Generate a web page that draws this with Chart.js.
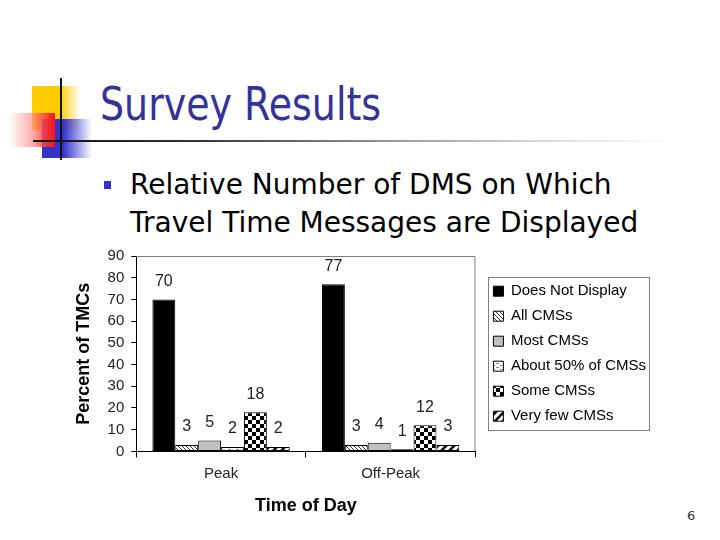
<!DOCTYPE html>
<html>
<head>
<meta charset="utf-8">
<script src="https://cdn.jsdelivr.net/npm/chart.js@4.4.0/dist/chart.umd.min.js"></script>
<style>
  html, body { margin: 0; padding: 0; background: #fff; }
  body { width: 720px; height: 540px; position: relative; overflow: hidden; font-family: "DejaVu Sans", sans-serif; }
  .abs { position: absolute; }
  #title { left: 100px; top: 81px; font-size: 46px; line-height: 46px; color: #333399; white-space: nowrap; transform: scaleX(0.825); transform-origin: 0 0; }
  #bullet { left: 104px; top: 181px; width: 7px; height: 8px; background: #3333cc; }
  #body { left: 130px; top: 166px; font-size: 28px; line-height: 38px; color: #000; white-space: nowrap; }
  #pageNo { left: 687px; top: 509px; font-size: 13px; line-height: 13px; color: #333; }
  #chartBox { left: 60px; top: 240px; width: 600px; height: 290px; }
</style>
</head>
<body>
<!-- title decoration -->
<div class="abs" style="left:32px;top:86px;width:48px;height:44px;background:linear-gradient(to right,#ffcc00 0%,#ffcc00 58%,rgba(255,204,0,0) 100%)"></div>
<div class="abs" style="left:42px;top:119px;width:50px;height:39px;background:linear-gradient(to right,#3333cc 0%,#3333cc 42%,rgba(51,51,204,0) 100%)"></div>
<div class="abs" style="left:10px;top:113px;width:45px;height:34px;background:linear-gradient(to right,rgba(255,240,240,0.3) 0%,rgba(255,140,140,0.7) 50%,#ff1010 100%)"></div>
<div class="abs" style="left:60px;top:78px;width:2px;height:82px;background:#111"></div>
<div class="abs" style="left:33px;top:140px;width:650px;height:2px;background:linear-gradient(to right,#111 0%,#333 25%,#999 55%,#e8e8e8 85%,rgba(255,255,255,0) 100%)"></div>

<div id="title" class="abs">Survey Results</div>
<div id="bullet" class="abs"></div>
<div id="body" class="abs">Relative Number of DMS on Which<br>Travel Time Messages are Displayed</div>
<div id="pageNo" class="abs">6</div>

<div id="chartBox" class="abs"><canvas id="chartCanvas" width="600" height="290"></canvas></div>

<script>
const categories = ['Peak', 'Off-Peak'];
const seriesNames = ['Does Not Display', 'All CMSs', 'Most CMSs', 'About 50% of CMSs', 'Some CMSs', 'Very few CMSs'];
const doesNotDisplay = [70, 77];
const allCMSs = [3, 3];
const mostCMSs = [5, 4];
const about50 = [2, 1];
const someCMSs = [18, 12];
const veryFew = [2, 3];
const yTicks = [0, 10, 20, 30, 40, 50, 60, 70, 80, 90];

const canvas = document.getElementById('chartCanvas');
const ctx = canvas.getContext('2d');

// small fill patterns like the old Excel bars
const makePattern = (w, h, draw) => {
  const c = document.createElement('canvas');
  c.width = w;
  c.height = h;
  const g = c.getContext('2d');
  g.fillStyle = '#fff';
  g.fillRect(0, 0, w, h);
  draw(g);
  return ctx.createPattern(c, 'repeat');
};

const backHatch = makePattern(4, 4, g => {
  g.strokeStyle = '#333';
  g.lineWidth = 1;
  g.beginPath();
  g.moveTo(-1, -1); g.lineTo(5, 5);
  g.moveTo(-1, 3); g.lineTo(1, 5);
  g.moveTo(3, -1); g.lineTo(5, 1);
  g.stroke();
});

const lightDash = makePattern(8, 4, g => {
  g.fillStyle = '#888';
  g.fillRect(0, 1, 3, 1);
  g.fillRect(4, 3, 3, 1);
});

const checker = makePattern(8, 8, g => {
  g.fillStyle = '#000';
  g.fillRect(0, 0, 4, 4);
  g.fillRect(4, 4, 4, 4);
});

const wideStripe = makePattern(8, 8, g => {
  g.strokeStyle = '#000';
  g.lineWidth = 2.5;
  g.beginPath();
  g.moveTo(-1, 9); g.lineTo(9, -1);
  g.moveTo(-1, 1); g.lineTo(1, -1);
  g.moveTo(7, 9); g.lineTo(9, 7);
  g.stroke();
});

const fills = ['#000', backHatch, '#c0c0c0', lightDash, checker, wideStripe];
const seriesData = [doesNotDisplay, allCMSs, mostCMSs, about50, someCMSs, veryFew];

// plot area frame (top + right edge)
const plotFrame = {
  id: 'plotFrame',
  beforeDatasetsDraw(chart) {
    const { ctx, chartArea: a } = chart;
    ctx.save();
    ctx.strokeStyle = '#808080';
    ctx.lineWidth = 1;
    ctx.beginPath();
    ctx.moveTo(a.left, a.top + 0.5);
    ctx.lineTo(a.right - 0.5, a.top + 0.5);
    ctx.lineTo(a.right - 0.5, a.bottom);
    ctx.stroke();
    ctx.restore();
  }
};

// push the legend a bit away from the plot
const legendNudge = {
  id: 'legendNudge',
  afterLayout(chart) {
    chart.legend.left += 8;
    chart.legend.right += 8;
  }
};

const legendFrame = {
  id: 'legendFrame',
  afterDraw(chart) {
    const hb = chart.legend.legendHitBoxes;
    if (!hb || !hb.length) return;
    const x0 = Math.round(hb[0].left - 5) + 0.5;
    const w = Math.round(Math.max(...hb.map(h => h.width)) + 8);
    const y0 = Math.round(hb[0].top - 7) + 0.5;
    const last = hb[hb.length - 1];
    const y1 = Math.round(last.top + last.height + 6) + 0.5;
    const c = chart.ctx;
    c.save();
    c.strokeStyle = '#808080';
    c.lineWidth = 1;
    c.strokeRect(x0, y0, w, y1 - y0);
    c.restore();
  }
};

const valueLabels = {
  id: 'valueLabels',
  afterDatasetsDraw(chart) {
    const c = chart.ctx;
    c.save();
    c.font = '16px "Liberation Sans", Arial, sans-serif';
    c.fillStyle = '#222';
    c.textAlign = 'center';
    c.textBaseline = 'bottom';
    chart.data.datasets.forEach((ds, i) => {
      chart.getDatasetMeta(i).data.forEach((bar, j) => {
        c.fillText(ds.data[j], bar.x, bar.y - 10);
      });
    });
    c.restore();
  }
};

Chart.defaults.font.family = '"Liberation Sans", Arial, sans-serif';
Chart.defaults.color = '#222';

new Chart(ctx, {
  type: 'bar',
  data: {
    labels: categories,
    datasets: seriesNames.map((name, i) => ({
      label: name,
      data: seriesData[i],
      backgroundColor: fills[i],
      borderColor: '#000',
      borderWidth: 1,
      borderSkipped: false,
      categoryPercentage: 0.81,
      barPercentage: 1.0
    }))
  },
  options: {
    responsive: false,
    animation: false,
    layout: { padding: { top: 16, left: 0, right: 12, bottom: 9 } },
    plugins: {
      legend: {
        position: 'right',
        fullSize: false,
        maxWidth: 200,
        labels: {
          boxWidth: 10,
          boxHeight: 10,
          padding: 10,
          color: '#000',
          font: { size: 15 }
        }
      },
      tooltip: { enabled: false }
    },
    scales: {
      x: {
        grid: { offset: true, drawOnChartArea: false, color: '#000', tickLength: 6 },
        border: { color: '#000' },
        ticks: { color: '#222', font: { size: 15 }, padding: 7 },
        title: {
          display: true,
          text: 'Time of Day',
          color: '#000',
          font: { size: 18, weight: 'bold' },
          padding: { top: 6, bottom: 4 }
        }
      },
      y: {
        min: yTicks[0],
        max: yTicks[yTicks.length - 1],
        afterBuildTicks: scale => {
          scale.ticks = yTicks.map(v => ({ value: v }));
        },
        ticks: { autoSkip: false, color: '#222', font: { size: 15 }, padding: 7 },
        grid: { drawOnChartArea: false, color: '#000', tickLength: 5 },
        border: { color: '#000' },
        title: {
          display: true,
          text: 'Percent of TMCs',
          color: '#000',
          font: { size: 18, weight: 'bold' },
          padding: { top: 13, bottom: 6 }
        }
      }
    }
  },
  plugins: [plotFrame, legendNudge, legendFrame, valueLabels]
});
</script>
</body>
</html>
